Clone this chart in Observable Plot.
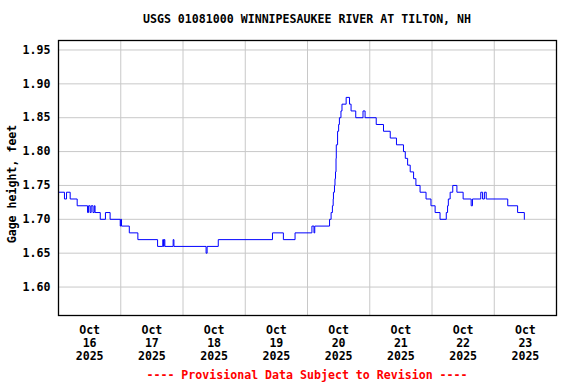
<!DOCTYPE html>
<html>
<head>
<meta charset="utf-8">
<script src="https://cdn.jsdelivr.net/npm/d3@7"></script>
<script src="https://cdn.jsdelivr.net/npm/@observablehq/plot@0.6"></script>
<style>
  html, body { margin: 0; padding: 0; background: #fff; }
  #wrap { position: relative; width: 576px; height: 384px; font-family: "DejaVu Sans Mono", monospace; font-weight: bold; font-size: 11.6px; }
  #title { position: absolute; left: 58px; width: 498px; top: 12px; line-height: 14px; text-align: center; color: #000; }
  #caption { position: absolute; left: 58px; width: 498px; top: 368px; line-height: 14px; text-align: center; color: #f00; }
  #chart { position: absolute; left: 0; top: 0; }
</style>
</head>
<body>
<div id="wrap">
  <div id="chart"></div>
  <div id="title"></div>
  <div id="caption"></div>
</div>
<script>
// ---- data (hours after 2025-10-16 00:00, gage height in feet, step changes) ----
const titleText = "USGS 01081000 WINNIPESAUKEE RIVER AT TILTON, NH";
const captionText = "---- Provisional Data Subject to Revision ----";
const yLabel = "Gage height, feet";

const hours = [
  0, 2.3, 3.1, 4.5, 7.2, 11.2, 11.6, 12.2, 12.6, 13.3, 13.8, 14.1, 16.1, 18.1, 19.9,
  23.8, 24.0, 24.3, 27.3, 30.6, 38.2, 40.2, 40.5, 40.7, 41.0, 44.2, 44.5, 56.9, 57.3, 61.6,
  82.5, 86.7, 91.2, 97.7, 98.5, 98.8, 104.5, 105.1, 105.6, 105.9, 106.0, 106.4, 106.6, 106.8,
  107.0, 107.1, 107.6, 108.0, 108.3, 108.9, 109.3, 110.9, 112.2, 112.8, 114.6, 117.4, 118.2,
  122.5, 125.3, 127.9, 130.3, 133.0, 133.7, 134.6, 135.6, 136.9, 137.8, 139.4, 141.7, 143.6,
  145.2, 147.1, 149.5, 150.0, 150.3, 151.0, 152.0, 153.6, 156.0, 159.1, 159.6, 162.8, 163.5,
  164.2, 164.9, 173.2, 177.0, 179.6
];
const gage = [
  1.74, 1.73, 1.74, 1.73, 1.72, 1.71, 1.72, 1.71, 1.72, 1.71, 1.72, 1.71, 1.70, 1.71, 1.70,
  1.69, 1.70, 1.69, 1.68, 1.67, 1.66, 1.67, 1.66, 1.67, 1.66, 1.67, 1.66, 1.65, 1.66, 1.67,
  1.68, 1.67, 1.68, 1.69, 1.68, 1.69, 1.70, 1.71, 1.72, 1.73, 1.74, 1.75, 1.76, 1.77,
  1.79, 1.81, 1.83, 1.84, 1.85, 1.86, 1.87, 1.88, 1.87, 1.86, 1.85, 1.86, 1.85,
  1.84, 1.83, 1.82, 1.81, 1.80, 1.79, 1.78, 1.77, 1.76, 1.75, 1.74, 1.73, 1.72,
  1.71, 1.70, 1.71, 1.72, 1.73, 1.74, 1.75, 1.74, 1.73, 1.72, 1.73, 1.74, 1.73,
  1.74, 1.73, 1.72, 1.71, 1.70
];

const yTicks = [1.60, 1.65, 1.70, 1.75, 1.80, 1.85, 1.90, 1.95];
const tickMonth = "Oct";
const tickDays = [16, 17, 18, 19, 20, 21, 22, 23];
const tickYear = 2025;
const gridDays = [17, 18, 19, 20, 21, 22, 23];

// ---- build ----
const t0 = Date.UTC(2025, 9, 16);
const data = hours.map((h, i) => ({date: new Date(t0 + h * 3600e3), value: gage[i]}));
const noonTicks = tickDays.map(d => new Date(Date.UTC(tickYear, 9, d, 12)));
const midnights = gridDays.map(d => new Date(Date.UTC(tickYear, 9, d)));
const font = "DejaVu Sans Mono, monospace";

const chart = Plot.plot({
  width: 576,
  height: 384,
  marginLeft: 58,
  marginRight: 20,
  marginTop: 40,
  marginBottom: 69,
  style: {fontFamily: font, fontSize: "11.6px", fontWeight: "bold", background: "#fff", color: "#000"},
  x: {type: "utc", domain: [new Date(Date.UTC(2025, 9, 16)), new Date(Date.UTC(2025, 9, 24))]},
  y: {domain: [1.558, 1.964]},
  marks: [
    Plot.gridY(yTicks, {stroke: "#c8c8c8", strokeOpacity: 1, strokeWidth: 1}),
    Plot.gridX(midnights, {stroke: "#c8c8c8", strokeOpacity: 1, strokeWidth: 1}),
    Plot.line(data, {x: "date", y: "value", curve: "step-after", stroke: "#0000ff", strokeWidth: 1}),
    Plot.frame({stroke: "#000", strokeWidth: 1.3}),
    Plot.axisY(yTicks, {tickSize: 0, tickPadding: 8, tickFormat: d3.format(".2f"), label: null, fontSize: 11.6}),
    Plot.axisX(noonTicks, {
      tickSize: 0, tickPadding: 9, label: null, lineHeight: 1.13, fontSize: 11.6,
      tickFormat: d => `${tickMonth}\n${d.getUTCDate()}\n${d.getUTCFullYear()}`
    }),
    Plot.text([yLabel], {frameAnchor: "left", textAnchor: "middle", rotate: -90, dx: -46, dy: 6, fontSize: 11.6, fontWeight: "bold", fill: "#000"})
  ]
});

document.getElementById("chart").appendChild(chart);
document.getElementById("title").textContent = titleText;
document.getElementById("caption").textContent = captionText;
</script>
</body>
</html>
